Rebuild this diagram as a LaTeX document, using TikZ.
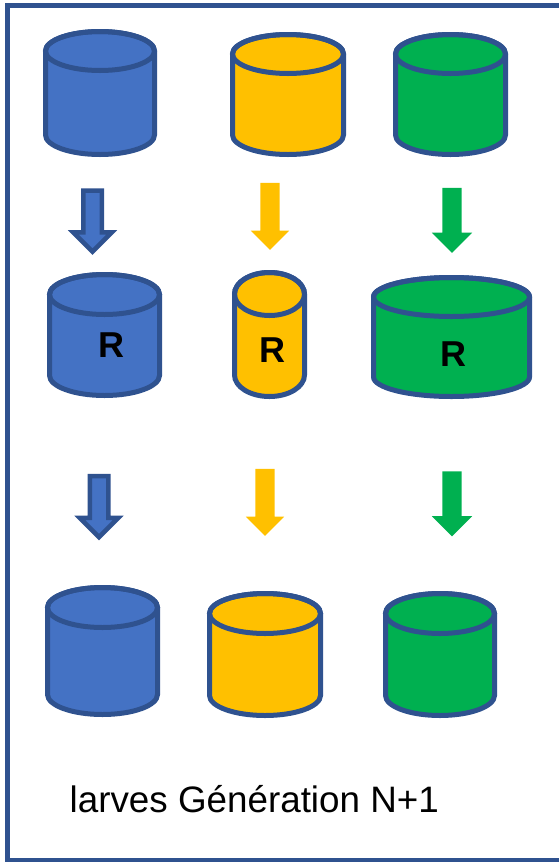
\documentclass[tikz,border=0pt]{standalone}
\usepackage{fontspec}
\setmainfont{Liberation Sans}
\usetikzlibrary{shapes.arrows}
\definecolor{edgeblue}{HTML}{2F528F}
\definecolor{cylblue}{HTML}{4472C4}
\definecolor{cylyellow}{HTML}{FFC000}
\definecolor{cylgreen}{HTML}{00B050}

% cylindre : nom, x centre, haut, bas, rayon x, rayon y, couleur
\newcommand{\tank}[7]{%
  \filldraw[tankline,fill=#7] (#2-#5,#3+#6) -- (#2-#5,#4-#6)
    arc[start angle=180,end angle=0,x radius=#5,y radius=#6] -- (#2+#5,#3+#6)
    arc[start angle=0,end angle=-180,x radius=#5,y radius=#6] -- cycle;
  \draw[tankline] (#2,#3+#6) ellipse[x radius=#5,y radius=#6];
  \coordinate (#1) at (#2,{(#3+#4)/2});
}

\begin{document}
\begin{tikzpicture}[x=1pt,y=-1pt]
\tikzstyle{tankline}=[draw=edgeblue,line width=5pt]
\tikzstyle{down}=[single arrow,rotate=-90,inner xsep=0pt,single arrow tip angle=90]
\tikzstyle{rlabel}=[font=\bfseries\fontsize{36}{36}\selectfont,anchor=base,inner sep=0pt]

\useasboundingbox (0,0) rectangle (558,863);

% cadre
\draw[edgeblue,line width=4.5pt] (575,5.5) -| (7.5,860) -- (575,860);

% parents
\tank{p1}{100}{31.5}{154.5}{54.5}{19.5}{cylblue}
\tank{p2}{288}{34.5}{154.5}{55.5}{19.5}{cylyellow}
\tank{p3}{450.5}{34.5}{154.5}{55}{19.5}{cylgreen}

\node[down,fill=cylblue,draw=edgeblue,line width=4.5pt,inner ysep=7pt,minimum height=61pt,minimum width=34pt,single arrow head extend=10pt] (a1) at (92.5,216.5) {};
\node[down,fill=cylyellow,inner ysep=9.5pt,minimum height=67pt,minimum width=38pt,single arrow head extend=9.5pt] (a2) at (270,211.5) {};
\node[down,fill=cylgreen,inner ysep=9.5pt,minimum height=65pt,minimum width=40pt,single arrow head extend=10.5pt] (a3) at (452,215.5) {};

% reservoirs
\tank{r1}{104.5}{274.5}{395.5}{55}{20}{cylblue}
\tank{r2}{269.5}{272.5}{396.5}{35}{21.5}{cylyellow}
\tank{r3}{451.5}{277.5}{396.5}{78}{19.5}{cylgreen}
\node[rlabel] (t1) at (111,357) {R};
\node[rlabel] (t2) at (272,362) {R};
\node[rlabel] (t3) at (453.5,366) {R};

\node[down,fill=cylblue,draw=edgeblue,line width=4.5pt,inner ysep=7pt,minimum height=61pt,minimum width=34pt,single arrow head extend=10pt] (b1) at (99,502) {};
\node[down,fill=cylyellow,inner ysep=9.5pt,minimum height=67pt,minimum width=38pt,single arrow head extend=9.5pt] (b2) at (265,497.5) {};
\node[down,fill=cylgreen,inner ysep=9.5pt,minimum height=65pt,minimum width=40pt,single arrow head extend=10.5pt] (b3) at (452,499) {};

% generation N+1
\tank{g1}{102.5}{587.5}{714.5}{55}{20}{cylblue}
\tank{g2}{265}{593.5}{715.5}{55.5}{20}{cylyellow}
\tank{g3}{440}{593.5}{715.5}{54.5}{20}{cylgreen}

\node[anchor=base west,inner sep=0pt,font=\fontsize{36.8}{36.8}\selectfont] (txt) at (69.5,812) {larves Génération N+1};
\end{tikzpicture}
\end{document}
